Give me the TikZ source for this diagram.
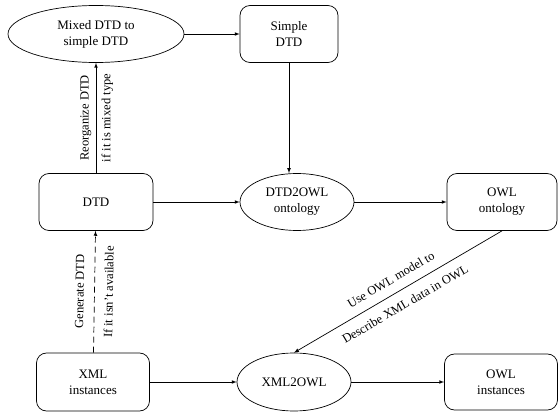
\documentclass[tikz,border=0pt]{standalone}
\usepackage{fontspec}
\setmainfont{Liberation Serif}
\usetikzlibrary{shapes.geometric}

\tikzstyle{procbox} = [rectangle, rounded corners=10pt, minimum height=57pt, align=center, draw=black, line width=0.7pt, font=\fontsize{13}{16}\selectfont]
\tikzstyle{convert} = [ellipse, minimum width=114pt, minimum height=57pt, inner sep=0pt, align=center, draw=black, line width=0.7pt, font=\fontsize{13}{16}\selectfont]
\tikzstyle{arrow} = [line width=0.7pt,->,>=latex]
\tikzstyle{note} = [font=\fontsize{12.5}{15}\selectfont, midway, sloped]

\begin{document}
\begin{tikzpicture}[x=1pt,y=1pt,node distance=190pt]
        \useasboundingbox (0,0) rectangle (558,-412);

            \node (mixed) [convert, minimum width=176pt] at (96,-34) {Mixed DTD to\\simple DTD};
            \node (simple) [procbox, minimum width=98pt, right of=mixed, node distance=193pt] {Simple\\DTD};
            \node (dtd) [procbox, minimum width=114pt, below of=mixed, node distance=168pt] {DTD};
            \node (dtdowl) [convert, right of=dtd, node distance=201pt] {DTD2OWL\\ontology};
            \node (owlont) [procbox, minimum width=110pt, right of=dtdowl, node distance=205pt] {OWL\\ontology};
            \node (xml) [procbox, minimum width=113pt, minimum height=58pt, below of=dtd, node distance=180pt, xshift=-3pt] {XML\\instances};
            \node (xmlowl) [convert, minimum height=58pt, right of=xml, node distance=201pt] {XML2OWL};
            \node (owlinst) [procbox, minimum width=113pt, minimum height=56pt, right of=xmlowl, node distance=207pt] {OWL\\instances};

            \draw [arrow] (mixed) -- (simple);
            \draw [arrow] (simple.south) -- (simple.south |- dtdowl.north);
            \draw [arrow] (dtd) -- (mixed)
                node[note, above=1pt] {Reorganize DTD}
                node[note, below=2pt] {if it is mixed type};
            \draw [arrow] (dtd) -- (dtdowl);
            \draw [arrow] (dtdowl) -- (owlont);
            \draw [arrow, dash pattern=on 6pt off 4pt] (xml) -- (dtd)
                node[note, above=7pt] {Generate DTD}
                node[note, below=6pt] {If it isn't available};
            \draw [arrow] (owlont.south) -- (xmlowl.north)
                node[note, above=6pt] {Use OWL model to}
                node[note, below=6pt] {Describe XML data in OWL};
            \draw [arrow] (xml) -- (xmlowl);
            \draw [arrow] (xmlowl) -- (owlinst);

    \end{tikzpicture}
\end{document}
